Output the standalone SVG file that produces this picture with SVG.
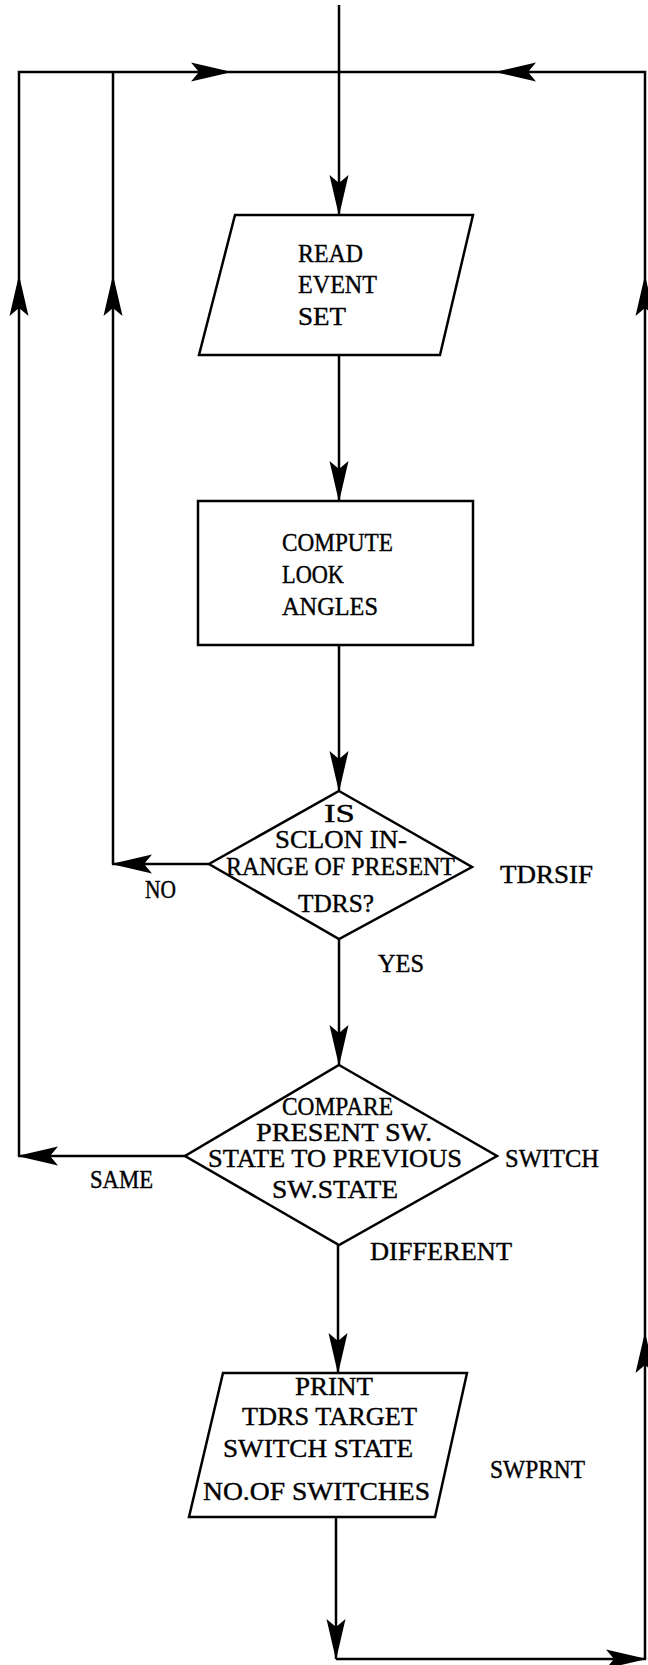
<svg xmlns="http://www.w3.org/2000/svg" width="648" height="1665" viewBox="0 0 648 1665">
<defs>
<marker id="ah" markerUnits="userSpaceOnUse" viewBox="-42 -10 44 20" refX="0" refY="0" markerWidth="44" markerHeight="20" orient="auto" overflow="visible">
<path d="M1,0 L-40,-9.5 L-32,0 L-40,9.5 Z" fill="#000"/>
</marker>
<style>
.ln{fill:none;stroke:#000;stroke-width:2.5}
.sh{fill:#fff;stroke:#000;stroke-width:2.5;stroke-linejoin:miter}
text{font-family:"Liberation Serif","Times New Roman",serif;font-size:26px;fill:#000;stroke:#000;stroke-width:0.4}
</style>
</defs>
<rect width="648" height="1665" fill="#fff"/>

<g id="connectors">
<path class="ln" d="M339,5 V215" marker-end="url(#ah)"/>
<path class="ln" d="M339,355 V501" marker-end="url(#ah)"/>
<path class="ln" d="M339,645 V791" marker-end="url(#ah)"/>
<path class="ln" d="M339,939 V1065" marker-end="url(#ah)"/>
<path class="ln" d="M338,1245 V1373" marker-end="url(#ah)"/>
<path class="ln" d="M336,1517 V1659" marker-end="url(#ah)"/>
<path class="ln" d="M336,1659 H646" marker-end="url(#ah)"/>
<path class="ln" d="M645,1659 V1333" marker-end="url(#ah)"/>
<path class="ln" d="M645,1333 V276" marker-end="url(#ah)"/>
<path class="ln" d="M645,276 V72 H496" marker-end="url(#ah)"/>
<path class="ln" d="M496,72 H231"/>
<path class="ln" d="M209,864 H112" marker-end="url(#ah)"/>
<path class="ln" d="M113,864 V276" marker-end="url(#ah)"/>
<path class="ln" d="M113,276 V72"/>
<path class="ln" d="M186,1156 H18" marker-end="url(#ah)"/>
<path class="ln" d="M19,1156 V276" marker-end="url(#ah)"/>
<path class="ln" d="M19,276 V72 H231" marker-end="url(#ah)"/>
</g>

<g id="n-read">
<polygon class="sh" points="235,215 473,215 440,355 199,355"/>
<text x="298" y="262" textLength="65" lengthAdjust="spacingAndGlyphs">READ</text>
<text x="298" y="293" textLength="79" lengthAdjust="spacingAndGlyphs">EVENT</text>
<text x="298" y="325" textLength="48" lengthAdjust="spacingAndGlyphs">SET</text>
</g>

<g id="n-compute">
<rect class="sh" x="198" y="501" width="275" height="144"/>
<text x="282" y="551" textLength="111" lengthAdjust="spacingAndGlyphs">COMPUTE</text>
<text x="282" y="583" textLength="62" lengthAdjust="spacingAndGlyphs">LOOK</text>
<text x="282" y="615" textLength="96" lengthAdjust="spacingAndGlyphs">ANGLES</text>
</g>

<g id="n-tdrsif">
<polygon class="sh" points="339,791 472,867 339,939 209,864"/>
<text x="324" y="822" textLength="31" lengthAdjust="spacingAndGlyphs">IS</text>
<text x="275" y="848" textLength="132" lengthAdjust="spacingAndGlyphs">SCLON IN-</text>
<text x="226" y="875" textLength="229" lengthAdjust="spacingAndGlyphs">RANGE OF PRESENT</text>
<text x="298" y="912" textLength="76" lengthAdjust="spacingAndGlyphs">TDRS?</text>
</g>

<g id="n-switch">
<polygon class="sh" points="339,1065 497,1156 339,1245 185,1156"/>
<text x="282" y="1115" textLength="111" lengthAdjust="spacingAndGlyphs">COMPARE</text>
<text x="256" y="1141" textLength="176" lengthAdjust="spacingAndGlyphs">PRESENT SW.</text>
<text x="208" y="1167" textLength="254" lengthAdjust="spacingAndGlyphs">STATE TO PREVIOUS</text>
<text x="272" y="1198" textLength="126" lengthAdjust="spacingAndGlyphs">SW.STATE</text>
</g>

<g id="n-swprnt">
<polygon class="sh" points="223,1373 467,1373 435,1517 189,1517"/>
<text x="295" y="1395" textLength="78" lengthAdjust="spacingAndGlyphs">PRINT</text>
<text x="242" y="1425" textLength="175" lengthAdjust="spacingAndGlyphs">TDRS TARGET</text>
<text x="223" y="1457" textLength="190" lengthAdjust="spacingAndGlyphs">SWITCH STATE</text>
<text x="203" y="1500" textLength="227" lengthAdjust="spacingAndGlyphs">NO.OF SWITCHES</text>
</g>

<g id="labels">
<text x="145" y="898" textLength="31" lengthAdjust="spacingAndGlyphs">NO</text>
<text x="500" y="883" textLength="93" lengthAdjust="spacingAndGlyphs">TDRSIF</text>
<text x="378" y="972" textLength="46" lengthAdjust="spacingAndGlyphs">YES</text>
<text x="90" y="1188" textLength="63" lengthAdjust="spacingAndGlyphs">SAME</text>
<text x="505" y="1167" textLength="94" lengthAdjust="spacingAndGlyphs">SWITCH</text>
<text x="370" y="1260" textLength="142" lengthAdjust="spacingAndGlyphs">DIFFERENT</text>
<text x="490" y="1478" textLength="95" lengthAdjust="spacingAndGlyphs">SWPRNT</text>
</g>
</svg>
